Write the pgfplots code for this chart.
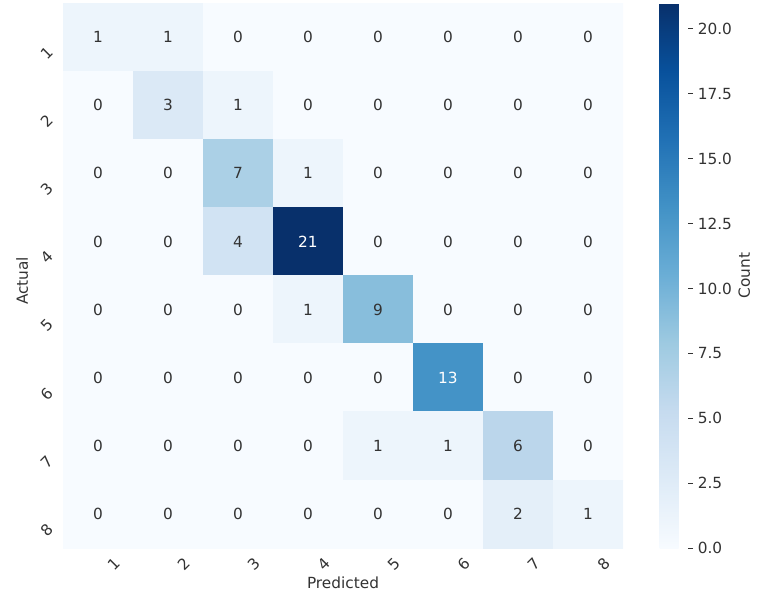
\documentclass[border=0pt]{standalone}
\usepackage{pgfplots}
\pgfplotsset{compat=1.18}
\usepackage{pgfplotstable}
\usepackage{fontspec}
\setmainfont{DejaVu Sans}
\definecolor{txt}{HTML}{333333}
\pgfplotstableread{
x y v
1 1 1
2 1 1
3 1 0
4 1 0
5 1 0
6 1 0
7 1 0
8 1 0
1 2 0
2 2 3
3 2 1
4 2 0
5 2 0
6 2 0
7 2 0
8 2 0
1 3 0
2 3 0
3 3 7
4 3 1
5 3 0
6 3 0
7 3 0
8 3 0
1 4 0
2 4 0
3 4 4
4 4 21
5 4 0
6 4 0
7 4 0
8 4 0
1 5 0
2 5 0
3 5 0
4 5 1
5 5 9
6 5 0
7 5 0
8 5 0
1 6 0
2 6 0
3 6 0
4 6 0
5 6 0
6 6 13
7 6 0
8 6 0
1 7 0
2 7 0
3 7 0
4 7 0
5 7 1
6 7 1
7 7 6
8 7 0
1 8 0
2 8 0
3 8 0
4 8 0
5 8 0
6 8 0
7 8 2
8 8 1
}\cm
\begin{document}
\begin{tikzpicture}[font=\fontsize{11.5}{13}\selectfont]
\path[use as bounding box] (-47.25pt,-46.5pt) rectangle (537.75pt,411pt);
\begin{axis}[
  scale only axis, width=420pt, height=408.75pt,
  xmin=0.5, xmax=8.5, ymin=0.5, ymax=8.5, y dir=reverse,
  /pgf/number format/assume math mode=true,
  colormap={blues}{rgb255(0)=(247,251,255) rgb255(1)=(222,235,247) rgb255(2)=(198,219,239) rgb255(3)=(158,202,225) rgb255(4)=(107,174,214) rgb255(5)=(66,146,198) rgb255(6)=(33,113,181) rgb255(7)=(8,81,156) rgb255(8)=(8,48,107)},
  point meta min=0, point meta max=21,
  axis line style={draw=none}, major tick length=0pt,
  xtick={1,...,8}, ytick={1,...,8},
  tick label style={text=txt},
  xticklabel style={rotate=45, anchor=center, yshift=-17pt},
  yticklabel style={rotate=45, anchor=center, xshift=-17pt},
  xlabel={Predicted}, ylabel={Actual},
  label style={text=txt},
  xlabel style={at={(axis description cs:0.5,0)}, anchor=center, yshift=-26pt},
  ylabel style={at={(axis description cs:-0.073,0.49)}, anchor=center},
  colorbar,
  colorbar style={
    at={(parent axis.north east)}, anchor=north west, xshift=19pt,
    width=21pt,
    ytick={0,2.5,...,20},
    yticklabel style={text=txt, /pgf/number format/.cd, fixed, fixed zerofill, precision=1, assume math mode=true},
    axis line style={draw=none},
    ytick pos=right, tick align=outside, major tick length=4pt,
    ytick style={draw=txt, line width=0.7pt},
    ylabel={Count}, ylabel style={text=txt, yshift=2pt},
  },
]
\addplot[matrix plot*, mesh/cols=8, point meta=explicit] table[x=x, y=y, meta=v] {\cm};
\addplot[only marks, mark size=0pt, point meta=explicit,
  restrict expr to domain={\thisrow{v}}{-1:10},
  nodes near coords={\pgfmathprintnumber[fixed, precision=0]{\pgfplotspointmeta}},
  nodes near coords align={center},
  every node near coord/.append style={text=txt}] table[x=x, y=y, meta=v] {\cm};
\addplot[only marks, mark size=0pt, point meta=explicit,
  restrict expr to domain={\thisrow{v}}{10.5:30},
  nodes near coords={\pgfmathprintnumber[fixed, precision=0]{\pgfplotspointmeta}},
  nodes near coords align={center},
  every node near coord/.append style={text=white}] table[x=x, y=y, meta=v] {\cm};
\end{axis}
\end{tikzpicture}
\end{document}
